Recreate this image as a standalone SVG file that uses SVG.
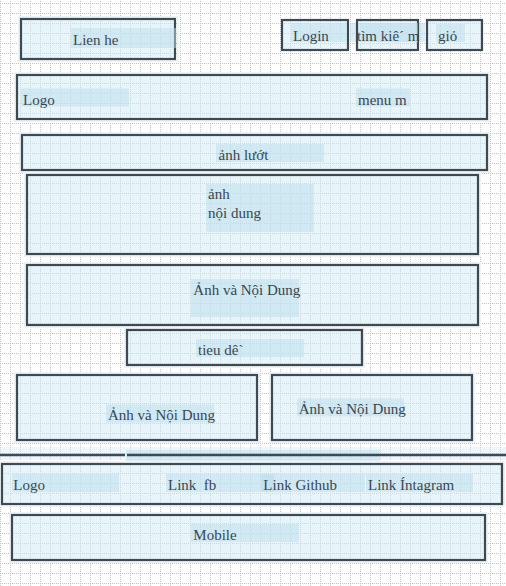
<svg xmlns="http://www.w3.org/2000/svg" width="506" height="586" viewBox="0 0 506 586">
<style>
.box{fill:#d4ecf6;fill-opacity:0.55;stroke:#3d4a52;stroke-width:2.2}
.halo{fill:none;stroke:#eef3f5;stroke-width:2}
.lbl{fill:#b9deec;fill-opacity:0.5}
text{font-family:"Liberation Serif","DejaVu Serif",serif;font-size:15px;fill:#3a4650;white-space:pre}
</style>
<defs>
<pattern id="grid" patternUnits="userSpaceOnUse" x="0" y="3" width="10" height="10">
<path d="M0.5 0V10" stroke="#c2c2c2" stroke-width="1" stroke-dasharray="1 1"/>
<path d="M0 0.5H10" stroke="#c2c2c2" stroke-width="1" stroke-dasharray="1 1"/>
</pattern>
</defs>
<rect width="506" height="586" fill="#ffffff"/>
<rect width="506" height="586" fill="url(#grid)"/>

<g id="lienhe">
<rect class="halo" x="19" y="17" width="159" height="44"/>
<rect class="box" x="21" y="19" width="154" height="40"/>
<rect class="lbl" x="71" y="28" width="105" height="20"/>
<text x="73" y="44.5">Lien he</text>
</g>
<g id="login">
<rect class="box" x="282" y="20" width="66" height="30"/>
<rect class="lbl" x="291" y="23" width="56" height="19"/>
<text x="293" y="40.5">Login</text>
</g>
<g id="timkiem">
<rect class="lbl" x="350" y="23" width="75" height="19" fill-opacity="0.25"/>
<rect class="box" x="357" y="20" width="61" height="30"/>
<rect class="lbl" x="360" y="23" width="58" height="19"/>
<text x="357" y="40.5" xml:space="preserve">tìm kiê´ m</text>
</g>
<g id="gio">
<rect class="box" x="427" y="20" width="55" height="30"/>
<rect class="lbl" x="436" y="24" width="29" height="18"/>
<text x="438" y="40.5">giỏ</text>
</g>
<g id="header">
<rect class="halo" x="15" y="73" width="474" height="48"/>
<rect class="box" x="17" y="75" width="470" height="44"/>
<rect class="lbl" x="21" y="88.5" width="108" height="18"/>
<text x="23" y="104.5">Logo</text>
<rect class="lbl" x="356" y="88.5" width="54" height="18"/>
<text x="358" y="104.5">menu m</text>
</g>
<g id="anhluot">
<rect class="halo" x="20" y="133" width="469" height="39"/>
<rect class="box" x="22" y="135" width="465" height="35"/>
<rect class="lbl" x="216" y="144" width="108" height="18"/>
<text x="218.5" y="160">ảnh lướt</text>
</g>
<g id="anhnoidung">
<rect class="halo" x="25" y="173" width="455" height="83"/>
<rect class="box" x="27" y="175" width="451" height="79"/>
<rect class="lbl" x="206" y="184" width="108" height="48"/>
<text x="208" y="199">ảnh</text>
<text x="208" y="217.5">nội dung</text>
</g>
<g id="anhvanoidung1">
<rect class="halo" x="25" y="263" width="455" height="64"/>
<rect class="box" x="27" y="265" width="451" height="60"/>
<rect class="lbl" x="191" y="279" width="108" height="38"/>
<text x="193.3" y="294.5">Ảnh và Nội Dung</text>
</g>
<g id="tieude">
<rect class="halo" x="125" y="328" width="239" height="39"/>
<rect class="box" x="127" y="330" width="235" height="35"/>
<rect class="lbl" x="196" y="339" width="108" height="18"/>
<text x="198" y="355">tieu dê`</text>
</g>
<g id="anhvanoidung2">
<rect class="halo" x="15" y="373" width="244" height="69"/>
<rect class="box" x="17" y="375" width="240" height="65"/>
<rect class="lbl" x="106" y="404.5" width="108" height="18"/>
<text x="108" y="419.5">Ảnh và Nội Dung</text>
</g>
<g id="anhvanoidung3">
<rect class="halo" x="270" y="373" width="204" height="69"/>
<rect class="box" x="272" y="375" width="200" height="65"/>
<rect class="lbl" x="297" y="398.5" width="107" height="18"/>
<text x="298.7" y="414">Ảnh và Nội Dung</text>
</g>
<g id="separator">
<rect x="0" y="447" width="506" height="13" fill="#d4ecf6" fill-opacity="0.45"/>
<rect class="lbl" x="126" y="450" width="254" height="11"/>
<path d="M0 455H125M127 455H506" stroke="#3d4a52" stroke-width="2.4" fill="none"/>
</g>
<g id="footer">
<rect class="halo" x="0" y="462" width="504" height="44"/>
<rect class="box" x="2" y="464" width="500" height="40"/>
<rect class="lbl" x="12" y="474" width="107" height="18"/>
<text x="13.3" y="489.5">Logo</text>
<rect class="lbl" x="166" y="474" width="108" height="18"/>
<text x="168" y="489.5" xml:space="preserve">Link  fb</text>
<rect class="lbl" x="261" y="474" width="104" height="18"/>
<text x="263.3" y="489.5">Link Github</text>
<rect class="lbl" x="366" y="474" width="107" height="18"/>
<text x="368" y="489.5">Link Íntagram</text>
</g>
<g id="mobile">
<rect class="halo" x="10" y="513" width="477" height="49"/>
<rect class="box" x="12" y="515" width="473" height="45"/>
<rect class="lbl" x="191" y="524" width="108" height="18"/>
<text x="193.3" y="539.5">Mobile</text>
</g>
<g id="connectors"/>
</svg>
